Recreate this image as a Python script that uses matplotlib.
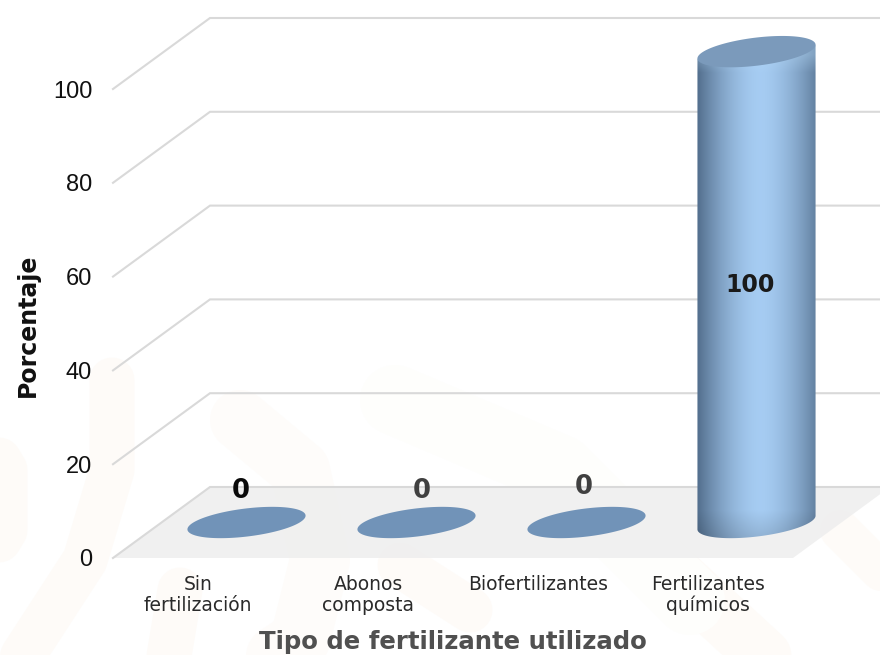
import matplotlib
matplotlib.use('Agg')
import matplotlib.pyplot as plt
import numpy as np
from matplotlib.lines import Line2D
from matplotlib.patches import Polygon
from matplotlib.path import Path

categorias = ['Sin\nfertilización', 'Abonos\ncomposta', 'Biofertilizantes', 'Fertilizantes\nquímicos']
valores = [0, 0, 0, 100]
ticks_y = [0, 20, 40, 60, 80, 100]
etiquetas = ['0', '0', '0', '100']
color_etiquetas = ['#0a0a0a', '#404040', '#404040', '#1a1a1a']
tam_etiquetas = [18.5, 18.5, 18.5, 17]
# ajuste manual de las etiquetas, en pixeles
ajuste_x = [-6, 5, -3, -6]
ajuste_y = [32, 32, 36, 3]

W, H = 880, 655
PX_X = 170.0     # pixeles por categoria
PX_Y = 4.69      # pixeles por unidad de porcentaje
FONDO_X = 97 / PX_X
FONDO_Y = 71 / PX_Y

fig = plt.figure(figsize=(W / 100, H / 100), dpi=100)
fig.patch.set_facecolor('white')
ax = fig.add_axes([113 / W, 97 / H, 680 / W, 469 / H])
ax.set_xlim(-0.5, 3.5)
ax.set_ylim(0, 100)
ax.patch.set_visible(False)
for s in ax.spines.values():
    s.set_visible(False)


# marca de agua de fondo
def banda(puntos, ancho, color='#fefbf8'):
    xs = [p[0] / W for p in puntos]
    ys = [1 - p[1] / H for p in puntos]
    fig.add_artist(Line2D(xs, ys, transform=fig.transFigure, color=color, lw=ancho * 0.72,
                          solid_capstyle='round', solid_joinstyle='round', zorder=-5))


banda([(-25, 420), (5, 470), (5, 530), (-25, 580)], 45)
banda([(112, 380), (112, 470), (85, 560), (20, 660)], 45)
banda([(240, 420), (300, 470), (320, 560), (300, 640), (240, 680)], 60, '#fefcfa')
banda([(180, 590), (165, 680)], 45)
banda([(400, 565), (470, 610)], 45)
banda([(660, 560), (790, 680)], 55)
banda([(840, 530), (900, 590)], 40)
banda([(395, 400), (560, 470), (690, 600)], 70, '#fefefc')

GRIS = '#d9d9d9'
xi, xf = -0.5, 3.5
# piso
ax.add_patch(Polygon([(xi, 0), (xf, 0), (xf + FONDO_X, FONDO_Y), (xi + FONDO_X, FONDO_Y)],
                     closed=True, fc='#eeeeee', ec='none', alpha=0.85, clip_on=False, zorder=1))
# rejilla con profundidad
for t in ticks_y:
    ax.plot([xi, xi + FONDO_X, xf + FONDO_X], [t, t + FONDO_Y, t + FONDO_Y],
            color=GRIS, lw=1.5, clip_on=False, zorder=1.5, solid_joinstyle='miter')

ax.set_xticks(range(len(categorias)))
ax.set_xticklabels(categorias, fontsize=13.5, family='DejaVu Sans', color='#2a2a2a', linespacing=1.13)
ax.set_yticks(ticks_y)
ax.set_yticklabels([str(t) for t in ticks_y], fontsize=17, family='Liberation Sans', color='#111111')
ax.tick_params(axis='x', length=0, pad=12)
ax.tick_params(axis='y', length=0, pad=15)

A, B, ANG = 59.5, 14.0, np.radians(7)


def elipse(cx, cy, t=None):
    if t is None:
        t = np.linspace(0, 2 * np.pi, 120)
    px = A * np.cos(t) * np.cos(ANG) - B * np.sin(t) * np.sin(ANG)
    py = A * np.cos(t) * np.sin(ANG) + B * np.sin(t) * np.cos(ANG)
    return np.column_stack([cx + px / PX_X, cy + py / PX_Y])


for i, v in enumerate(valores):
    cx = i + FONDO_X / 2
    cy0 = FONDO_Y / 2
    if v > 0:
        # cuerpo del cilindro: mitad inferior de la base y mitad superior de la tapa
        t = np.linspace(np.pi, 2 * np.pi, 60)
        base = elipse(cx, cy0, t)
        tope = elipse(cx, cy0 + v, t - np.pi)
        contorno = np.vstack([base, tope, base[:1]])
        # degradado horizontal
        u = np.linspace(-1, 1, 240) - 0.05
        w = np.clip(np.abs(u) ** 1.7, 0, 1)[None, :, None]
        oscuro = np.array([0.33, 0.44, 0.56])
        claro = np.array([0.65, 0.80, 0.95])
        img = claro * (1 - w) + oscuro * w
        img = np.repeat(img, 400, axis=0)
        # sombra abajo y brillo bajo la tapa
        vv = np.linspace(0, 1, 400)[:, None, None]
        sombra = np.clip((vv - 0.94) / 0.06, 0, 1) * 0.14
        brillo = np.clip((0.075 - vv) / 0.035, 0, 1) * 0.35
        img = img * (1 - sombra)
        img = img * (1 - brillo) + np.array([0.72, 0.86, 0.97]) * brillo
        im = ax.imshow(img, extent=[cx - 62 / PX_X, cx + 62 / PX_X, cy0 - 4, cy0 + v + 4], aspect='auto',
                       zorder=3, interpolation='bilinear')
        im.set_clip_box(fig.bbox)
        im.set_clip_path(Path(contorno), ax.transData)
        # tapa
        ax.add_patch(Polygon(elipse(cx, cy0 + v + 0.4), closed=True, fc='#7b9abb', ec='none',
                             clip_on=False, zorder=4))
    else:
        ax.add_patch(Polygon(elipse(cx, cy0), closed=True, fc='#7193b8', ec='none', clip_on=False, zorder=3))

    ax.text(cx + ajuste_x[i] / PX_X, cy0 + v / 2 + ajuste_y[i] / PX_Y,
            etiquetas[i], ha='center', va='center', fontsize=tam_etiquetas[i], fontweight='bold',
            family='DejaVu Sans', color=color_etiquetas[i], zorder=6, clip_on=False)

ax.set_xlim(-0.5, 3.5)
ax.set_ylim(0, 100)

fig.text(453 / W, 1 - 642 / H, 'Tipo de fertilizante utilizado', ha='center', va='center',
         fontsize=17.6, fontweight='bold', family='DejaVu Sans', color='#505050')
fig.text(28 / W, 1 - 325 / H, 'Porcentaje', ha='center', va='center', rotation=90,
         fontsize=17, fontweight='bold', family='DejaVu Sans', color='#111111')

fig.savefig('out.png', dpi=100)
